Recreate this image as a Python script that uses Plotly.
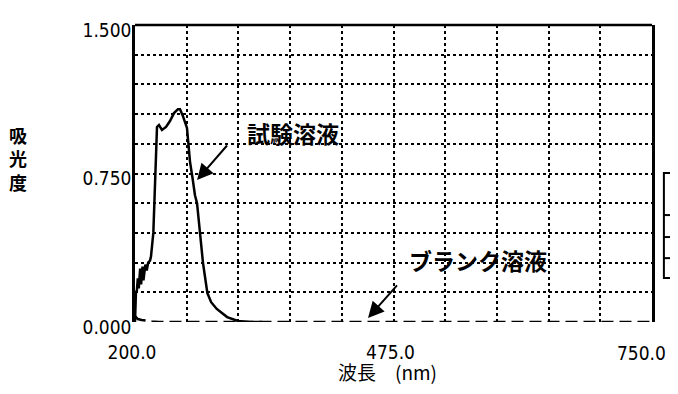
import plotly.graph_objects as go

# Test solution (試験溶液) spectrum
test_wl = [200.0, 200.5, 201.0, 202.0, 203.0, 204.0, 205.5, 206.5, 208.0, 209.0,
           211.0, 212.5, 214.0, 216.0, 217.0, 219.5, 221.3, 222.3, 223.4, 225.5,
           228.7, 233.0, 237.2, 241.5, 245.7, 247.9, 251.0, 255.3, 256.9, 258.5,
           261.2, 263.8, 266.0, 269.0, 272.3, 274.5, 277.0, 281.0, 287.0, 298.0,
           309.5, 322.0, 335.0]
test_abs = [0.00, 0.10, 0.15, 0.16, 0.22, 0.17, 0.27, 0.19, 0.28, 0.21,
            0.29, 0.26, 0.30, 0.31, 0.33, 0.45, 0.667, 0.87, 0.985, 0.995,
            0.97, 0.985, 1.015, 1.055, 1.075, 1.075, 1.04, 0.98, 0.894, 0.81,
            0.727, 0.64, 0.60, 0.45, 0.30, 0.227, 0.146, 0.10, 0.066, 0.025,
            0.005, 0.0, 0.0]

# Blank solution (ブランク溶液)
blank_wl = [200.0, 203.0, 207.0, 212.0, 218.0, 225.0, 750.0]
blank_abs = [0.03, 0.015, 0.01, 0.006, 0.003, 0.0, 0.0]

x_ticks = [200.0, 475.0, 750.0]
x_tick_text = ["200.0", "475.0", "750.0"]
y_ticks = [0.0, 0.75, 1.5]
y_tick_text = ["0.000", "0.750", "1.500"]

num_font = dict(family="DejaVu Sans Condensed, DejaVu Sans", size=19, color="black")
cjk = "Noto Sans CJK JP"

fig = go.Figure()
fig.add_trace(go.Scatter(x=blank_wl, y=blank_abs, mode="lines", cliponaxis=False,
                         line=dict(color="black", width=2.5, dash="12px,6px"),
                         showlegend=False))
fig.add_trace(go.Scatter(x=test_wl, y=test_abs, mode="lines", cliponaxis=False,
                         line=dict(color="black", width=2.5),
                         showlegend=False))

# the last x label sits at the page edge; it is drawn as an annotation so it stays inside
x_tick_shown = x_tick_text[:-1] + [""]

grid = dict(showgrid=True, gridcolor="black", gridwidth=1.5, griddash="dot")
fig.update_xaxes(range=[200, 750], tickmode="array", tickvals=x_ticks, ticktext=x_tick_shown,
                 ticks="", ticklen=0, ticklabelstandoff=17, ticklabelshift=-3,
                 tickfont=num_font,
                 showline=False, zeroline=False,
                 minor=dict(dtick=55, tick0=200, ticks="", **grid), **grid)
fig.update_yaxes(range=[0, 1.5], tickmode="array", tickvals=y_ticks, ticktext=y_tick_text,
                 ticks="", ticklen=0, ticklabelstandoff=-3, ticklabelshift=5,
                 tickfont=num_font,
                 showline=True, mirror=True, linecolor="black", linewidth=2.5, zeroline=False,
                 minor=dict(dtick=0.15, tick0=0, ticks="", **grid), **grid)

shapes = [
    dict(type="line", xref="paper", yref="paper", x0=0, x1=1, y0=1, y1=1,
         line=dict(color="black", width=2.5)),
    # partial table at the right edge
    dict(type="rect", xref="paper", yref="paper", x0=1.023, x1=1.07, y0=0.148, y1=0.502,
         line=dict(color="black", width=2)),
    dict(type="line", xref="paper", yref="paper", x0=1.023, x1=1.07, y0=0.36, y1=0.36,
         line=dict(color="black", width=2)),
    dict(type="line", xref="paper", yref="paper", x0=1.023, x1=1.07, y0=0.286, y1=0.286,
         line=dict(color="black", width=2)),
    dict(type="line", xref="paper", yref="paper", x0=1.023, x1=1.07, y0=0.215, y1=0.215,
         line=dict(color="black", width=2)),
]

# page-pixel geometry (the page body adds an 8px margin on every side)
OFF = 8
W, H = 678 - 2 * OFF, 394 - 2 * OFF
PL, PR, PT, PB = 135, 652, 25, 322          # plot area in screenshot pixels
pw, ph = PR - PL, PB - PT


def px2paper(px, py):
    return (px - PL) / pw, (PB - py) / ph


ylab_x, ylab_y = px2paper(18, 159)
xlab_x, xlab_y = px2paper(387, 372)
last_x, last_y = px2paper(667, 353)

annotations = [
    dict(x=266.0, y=0.717, xref="x", yref="y", text=" ", showarrow=True,
         ax=33, ay=-38, arrowhead=2, arrowsize=1.6, arrowwidth=2, arrowcolor="black"),
    dict(x=368, y=0.955, xref="x", yref="y", text="試験溶液", showarrow=False,
         font=dict(family=cjk, size=23, color="black", weight="bold")),
    dict(x=447.9, y=0.02, xref="x", yref="y", text=" ", showarrow=True,
         ax=32, ay=-36, arrowhead=2, arrowsize=1.6, arrowwidth=2, arrowcolor="black"),
    dict(x=564.4, y=0.313, xref="x", yref="y", text="ブランク溶液", showarrow=False,
         font=dict(family=cjk, size=23, color="black", weight="bold")),
    dict(x=ylab_x, y=ylab_y, xref="paper", yref="paper", text="吸<br>光<br>度",
         showarrow=False, xanchor="center", yanchor="middle",
         font=dict(family=cjk, size=18, color="black", weight="bold")),
    dict(x=xlab_x, y=xlab_y, xref="paper", yref="paper", text="波長　(nm)",
         showarrow=False, xanchor="center", yanchor="middle", borderpad=0,
         font=dict(family=cjk, size=19, color="black")),
    dict(x=last_x, y=last_y, xref="paper", yref="paper", text=x_tick_text[-1],
         showarrow=False, xanchor="right", yanchor="middle", borderpad=0,
         font=num_font),
]

fig.update_layout(width=W, height=H,
                  margin=dict(l=PL - OFF, r=W + OFF - PR, t=PT - OFF, b=H + OFF - PB),
                  plot_bgcolor="white", paper_bgcolor="white",
                  shapes=shapes, annotations=annotations)
fig.write_html("out.html")
